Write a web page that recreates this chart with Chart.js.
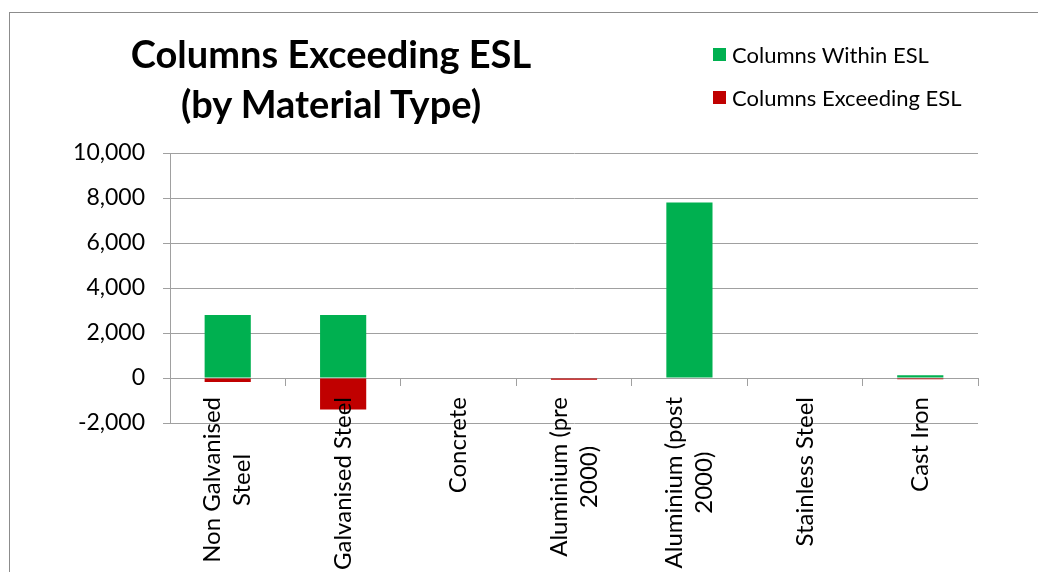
<!DOCTYPE html>
<html>
<head>
<meta charset="utf-8">
<title>Columns Exceeding ESL</title>
<script src="https://cdn.jsdelivr.net/npm/chart.js@4.4.1/dist/chart.umd.min.js"></script>
<style>
  html, body { margin: 0; padding: 0; background: #fff; overflow: hidden; }
  #wrap { position: relative; width: 1038px; height: 572px; overflow: hidden; font-family: Lato, sans-serif; color: #000; }
  #frame { position: absolute; left: 9px; top: 12px; width: 1100px; height: 700px; border: 1px solid #8c8c8c; }
  #chart { position: absolute; left: 0; top: 0; }
  #title { position: absolute; left: 81px; width: 500px; top: 28px; text-align: center; font-weight: bold; font-size: 38px; line-height: 50px; }
  #legend { position: absolute; left: 713px; top: 33px; font-size: 22px; }
  #legend .item { display: flex; align-items: center; height: 43px; }
  #legend .box { width: 13px; height: 13px; margin-right: 6px; }
</style>
</head>
<body>
<div id="wrap">
  <div id="frame"></div>
  <canvas id="chart" width="1038" height="572"></canvas>
  <div id="title">Columns Exceeding ESL<br>(by Material Type)</div>
  <div id="legend"></div>
</div>
<script>
// datos
const categories = [
  ['Non Galvanised', 'Steel'],
  'Galvanised Steel',
  'Concrete',
  ['Aluminium (pre', '2000)'],
  ['Aluminium (post', '2000)'],
  'Stainless Steel',
  'Cast Iron'
];
const withinESL = [2800, 2800, 0, 0, 7800, 0, 120];
const exceedingESL = [-180, -1400, 0, -80, 0, 0, -50];
const yTicks = [-2000, 0, 2000, 4000, 6000, 8000, 10000];

const GREEN = '#00b050';
const RED = '#c00000';
const GRID = '#a0a0a0';

Chart.defaults.font.family = 'Lato, sans-serif';
Chart.defaults.font.size = 23;
Chart.defaults.color = '#000';

// etiquetas del eje x giradas, centradas entre lineas
const xLabelsPlugin = {
  id: 'xLabels',
  afterDraw(chart) {
    const ctx = chart.ctx;
    const xs = chart.scales.x;
    const y0 = chart.scales.y.getPixelForValue(0) + 19;
    const lh = 30;
    ctx.save();
    ctx.font = '24px Lato, sans-serif';
    ctx.fillStyle = '#000';
    ctx.textAlign = 'center';
    ctx.textBaseline = 'middle';
    categories.forEach((label, i) => {
      const lines = Array.isArray(label) ? label : [label];
      const maxW = Math.max(...lines.map(l => ctx.measureText(l).width));
      const x = xs.getPixelForValue(i);
      ctx.save();
      ctx.translate(x, y0);
      ctx.rotate(-Math.PI / 2);
      lines.forEach((line, j) => {
        ctx.fillText(line, -maxW / 2, (j - (lines.length - 1) / 2) * lh);
      });
      ctx.restore();
    });
    ctx.restore();
  }
};

const chart = new Chart(document.getElementById('chart'), {
  type: 'bar',
  data: {
    labels: categories,
    datasets: [
      { label: 'Columns Within ESL', data: withinESL, backgroundColor: GREEN },
      { label: 'Columns Exceeding ESL', data: exceedingESL, backgroundColor: RED }
    ]
  },
  options: {
    responsive: false,
    animation: false,
    devicePixelRatio: 1,
    layout: { padding: { left: 0, top: 153, right: 60, bottom: 149 } },
    datasets: { bar: { categoryPercentage: 1, barPercentage: 0.4 } },
    plugins: {
      legend: { display: false },
      title: { display: false },
      tooltip: { enabled: false }
    },
    scales: {
      x: {
        stacked: true,
        position: { y: 0 },
        ticks: { display: false },
        grid: { offset: true, drawOnChartArea: false, drawTicks: true, tickLength: 7, color: GRID },
        border: { display: true, color: GRID }
      },
      y: {
        stacked: true,
        min: -2000,
        max: 10000,
        afterBuildTicks: s => { s.ticks = yTicks.map(v => ({ value: v })); },
        afterFit: s => { s.width = 170; },
        ticks: { padding: 18, callback: v => v.toLocaleString('en-US') },
        grid: { color: GRID, tickLength: 7 },
        border: { display: true, color: GRID }
      }
    }
  },
  plugins: [xLabelsPlugin]
});

// leyenda en html a partir de los datasets
const $legend = document.getElementById('legend');
$legend.innerHTML = chart.data.datasets.map(d =>
  `<div class="item"><span class="box" style="background:${d.backgroundColor}"></span>${d.label}</div>`
).join('');
</script>
</body>
</html>
